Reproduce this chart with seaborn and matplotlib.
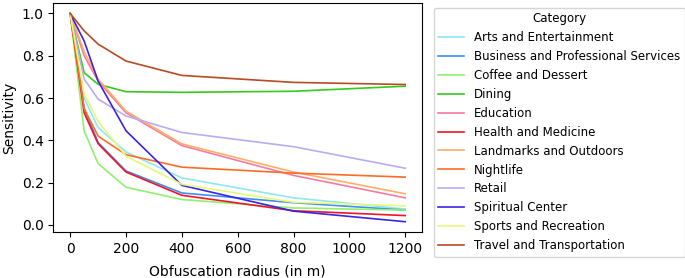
import pandas as pd
import seaborn as sns
import matplotlib.pyplot as plt

radius = [0, 50, 100, 200, 400, 800, 1200]

categories = [
    'Arts and Entertainment', 'Business and Professional Services',
    'Coffee and Dessert', 'Dining', 'Education', 'Health and Medicine',
    'Landmarks and Outdoors', 'Nightlife', 'Retail', 'Spiritual Center',
    'Sports and Recreation', 'Travel and Transportation',
]

arts = [1.0, 0.60, 0.46, 0.345, 0.222, 0.128, 0.075]
business = [1.0, 0.55, 0.39, 0.255, 0.151, 0.105, 0.07]
coffee = [1.0, 0.445, 0.29, 0.178, 0.12, 0.08, 0.07]
dining = [1.0, 0.72, 0.665, 0.63, 0.627, 0.632, 0.656]
education = [1.0, 0.80, 0.68, 0.53, 0.375, 0.234, 0.128]
health = [1.0, 0.53, 0.384, 0.25, 0.14, 0.067, 0.044]
landmarks = [1.0, 0.82, 0.69, 0.538, 0.383, 0.25, 0.147]
nightlife = [1.0, 0.55, 0.42, 0.332, 0.273, 0.245, 0.226]
retail = [1.0, 0.69, 0.595, 0.515, 0.437, 0.37, 0.268]
spiritual = [1.0, 0.87, 0.68, 0.445, 0.187, 0.065, 0.015]
sports = [1.0, 0.62, 0.49, 0.325, 0.192, 0.107, 0.09]
travel = [1.0, 0.918, 0.855, 0.775, 0.707, 0.674, 0.664]

colors = ['#8ee8f0', '#3d8ef0', '#90f070', '#33cc1a', '#f47ca0', '#f0142a',
          '#ffae66', '#ff6a28', '#b8acf6', '#3a24e6', '#e8f878', '#b84a24']

series = [arts, business, coffee, dining, education, health,
          landmarks, nightlife, retail, spiritual, sports, travel]

rows = []
for cat, vals in zip(categories, series):
    for r, v in zip(radius, vals):
        rows.append({'Obfuscation radius (in m)': r, 'Sensitivity': v, 'Category': cat})
df = pd.DataFrame(rows)

fig, ax = plt.subplots(figsize=(6.85, 2.78), dpi=100)
sns.lineplot(data=df, x='Obfuscation radius (in m)', y='Sensitivity', hue='Category',
             palette=colors, linewidth=1.2, ax=ax)
ax.set_yticks([0.0, 0.2, 0.4, 0.6, 0.8, 1.0])
ax.set_xticks([0, 200, 400, 600, 800, 1000, 1200])
ax.xaxis.labelpad = 6
ax.legend(title='Category', loc='upper left', bbox_to_anchor=(1.016, 1.006),
          fontsize=8.5, title_fontsize=8.5, handlelength=2.2)
fig.subplots_adjust(left=0.078, right=0.616, top=0.989, bottom=0.165)
fig.savefig('out.png')
